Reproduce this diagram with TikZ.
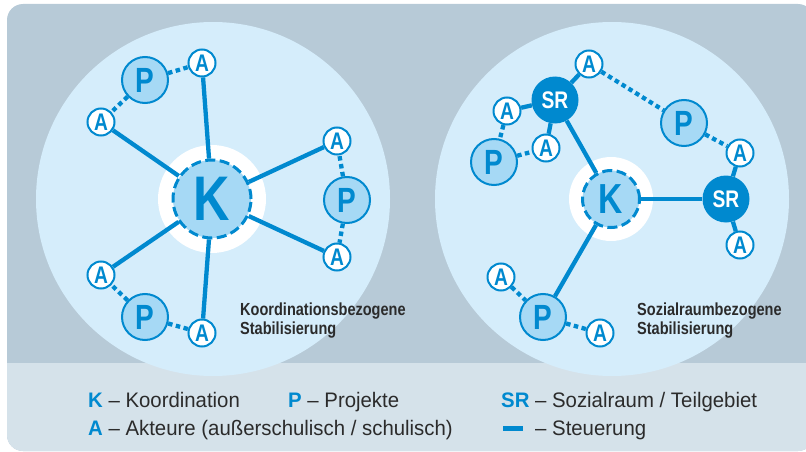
\documentclass[tikz,border=0pt]{standalone}
\usepackage{fontspec}
\setmainfont{Liberation Sans}
\newfontfamily\nodefont{Liberation Sans}[FakeStretch=0.8]
\newfontfamily\labfont{Liberation Sans}[FakeStretch=0.83]
\newfontfamily\legfont{Liberation Sans}[FakeStretch=0.97]
\definecolor{bl}{HTML}{0089CF}
\definecolor{lfill}{HTML}{A6D9F5}
\definecolor{bigc}{HTML}{D5EDFB}
\definecolor{bgtop}{HTML}{B7CAD7}
\definecolor{bgbot}{HTML}{D5E2EA}
\definecolor{txt}{HTML}{2B2B2B}
\pgfdeclarelayer{bg}\pgfdeclarelayer{edges}\pgfsetlayers{bg,edges,main}
\begin{document}
\begin{tikzpicture}[x=1pt,y=-1pt,
  anode/.style={circle,draw=bl,line width=2pt,fill=white,minimum size=27pt,inner sep=0pt,text=bl,font=\nodefont\bfseries\fontsize{24}{24}\selectfont},
  pnode/.style={circle,draw=bl,line width=2pt,fill=lfill,minimum size=46pt,inner sep=0pt,text=bl,font=\nodefont\bfseries\fontsize{35}{35}\selectfont},
  srnode/.style={circle,fill=bl,minimum size=47pt,inner sep=0pt,text=white,font=\nodefont\bfseries\fontsize{24}{24}\selectfont},
  knode/.style={circle,draw=bl,line width=3pt,dash pattern=on 10pt off 4.5pt,fill=lfill,inner sep=0pt,text=bl},
  solidedge/.style={draw=bl,line width=4.3pt},
  dotedge/.style={draw=bl,line width=4.3pt,dash pattern=on 4.5pt off 3.5pt},
  lab/.style={anchor=base west,inner sep=0pt,text=txt,font=\labfont\bfseries\fontsize{17.5}{19}\selectfont},
  leg/.style={anchor=base west,inner sep=0pt,text=txt,font=\legfont\fontsize{21}{21}\selectfont}]
\useasboundingbox (0,0) rectangle (806,452);
\begin{pgfonlayer}{bg}
  \fill[bgtop,rounded corners=16pt] (7,4) rectangle (814,451);
  \begin{scope}
    \clip[rounded corners=16pt] (7,4) rectangle (814,451);
    \fill[bgbot] (0,363) rectangle (814,452);
  \end{scope}
  \fill[bigc] (213,199) circle (177);
  \fill[bigc] (612,199) circle (177);
  \fill[white] (212,199) circle (54);
  \fill[white] (611,199) circle (42);
\end{pgfonlayer}
% left diagram
\node[knode,minimum size=78pt,font=\nodefont\bfseries\fontsize{63}{63}\selectfont] (K1) at (212,199) {K};
\node[anode] (a1) at (202,63) {A};
\node[pnode] (p1) at (145,80) {P};
\node[anode] (a2) at (101,122) {A};
\node[anode] (a3) at (337,141) {A};
\node[pnode] (p2) at (347,200) {P};
\node[anode] (a4) at (337,257) {A};
\node[anode] (a5) at (101,275) {A};
\node[pnode] (p3) at (145,317) {P};
\node[anode] (a6) at (202,333) {A};
% right diagram
\node[knode,minimum size=57pt,font=\nodefont\bfseries\fontsize{42}{42}\selectfont] (K2) at (611,199) {K};
\node[srnode] (sr1) at (555,100) {SR};
\node[srnode] (sr2) at (726,199) {SR};
\node[anode] (b1) at (589,64) {A};
\node[anode] (b2) at (507,111) {A};
\node[anode] (b3) at (546,148) {A};
\node[pnode] (q1) at (494,162) {P};
\node[pnode] (q2) at (684,123) {P};
\node[anode] (b4) at (740,153) {A};
\node[anode] (b5) at (740,245) {A};
\node[pnode] (q3) at (543,317) {P};
\node[anode] (b6) at (501,277) {A};
\node[anode] (b7) at (600,333) {A};
\begin{pgfonlayer}{edges}
  \foreach \t in {a1,a2,a3,a4,a5,a6} \draw[solidedge] (K1) -- (\t);
  \draw[dotedge] (p1) -- (a1);
  \draw[dotedge] (p1) -- (a2);
  \draw[dotedge] (p2) -- (a3);
  \draw[dotedge] (p2) -- (a4);
  \draw[dotedge] (p3) -- (a5);
  \draw[dotedge] (p3) -- (a6);
  \draw[solidedge] (K2) -- (sr1);
  \draw[solidedge] (K2) -- (sr2);
  \draw[solidedge] (K2) -- (q3);
  \draw[solidedge] (sr1) -- (b1);
  \draw[solidedge] (sr1) -- (b2);
  \draw[solidedge] (sr1) -- (b3);
  \draw[solidedge] (sr2) -- (b4);
  \draw[solidedge] (sr2) -- (b5);
  \draw[dotedge] (b1) -- (q2);
  \draw[dotedge] (q2) -- (b4);
  \draw[dotedge] (b2) -- (q1);
  \draw[dotedge] (q1) -- (b3);
  \draw[dotedge] (b6) -- (q3);
  \draw[dotedge] (q3) -- (b7);
\end{pgfonlayer}
% labels
\node[lab] (l1a) at (240,315) {Koordinationsbezogene};
\node[lab] (l1b) at (240,334) {Stabilisierung};
\node[lab] (l2a) at (637,315) {Sozialraumbezogene};
\node[lab] (l2b) at (637,334) {Stabilisierung};
% legend
\node[leg] (lk) at (88,407) {\textcolor{bl}{\bfseries K} – Koordination};
\node[leg] (lp) at (288,407) {\textcolor{bl}{\bfseries P} – Projekte};
\node[leg] (lsr) at (501,407) {\textcolor{bl}{\bfseries SR} – Sozialraum / Teilgebiet};
\node[leg] (la) at (88,435) {\textcolor{bl}{\bfseries A} – Akteure (außerschulisch / schulisch)};
\node[fill=bl,minimum width=20pt,minimum height=5pt,inner sep=0pt] (lbar) at (513,428.5) {};
\node[leg] (lst) at (535,435) {– Steuerung};
\end{tikzpicture}
\end{document}
